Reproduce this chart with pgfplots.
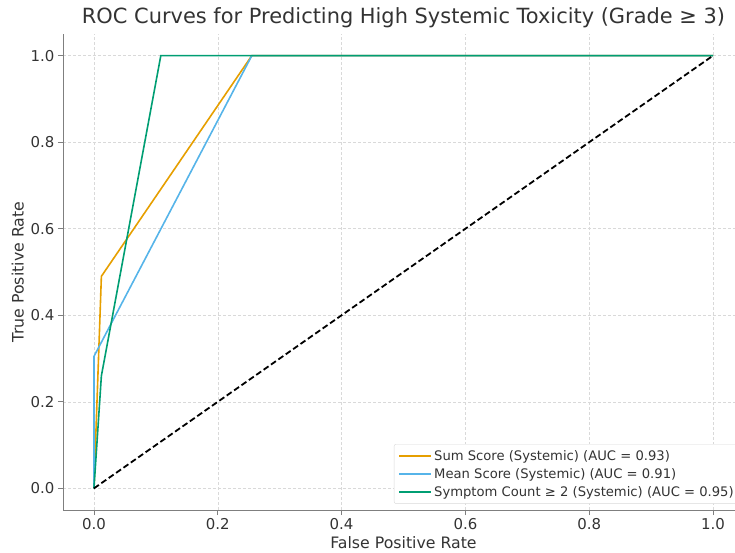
\documentclass[border=0pt]{standalone}
\usepackage{fontspec}
\setmainfont{DejaVu Sans}
\usepackage{pgfplots}
\pgfplotsset{compat=1.18}

\definecolor{sumc}{HTML}{E69F00}
\definecolor{meanc}{HTML}{56B4E9}
\definecolor{countc}{HTML}{009E73}
\definecolor{spine}{HTML}{7F7F7F}
\definecolor{txt}{HTML}{333333}

\begin{document}
\begin{tikzpicture}
\begin{axis}[
  scale only axis,
  width=681bp, height=476bp,
  xmin=-0.05, xmax=1.05, ymin=-0.05, ymax=1.05,
  axis x line*=bottom, axis y line*=left,
  axis line style={spine, line width=1bp, -},
  xtick={0,0.2,0.4,0.6,0.8,1.0},
  ytick={0,0.2,0.4,0.6,0.8,1.0},
  tick align=outside, major tick length=5bp,
  tick style={spine, line width=0.8bp},
  xticklabel style={/pgf/number format/fixed,/pgf/number format/fixed zerofill,/pgf/number format/precision=1},
  yticklabel style={/pgf/number format/fixed,/pgf/number format/fixed zerofill,/pgf/number format/precision=1},
  /pgf/number format/assume math mode=true,
  tick label style={font=\fontsize{15}{18}\selectfont, text=txt},
  grid=major,
  grid style={gray!30, line width=0.5bp, dash pattern=on 3bp off 2bp},
  title={ROC Curves for Predicting High Systemic Toxicity (Grade ≥ 3)},
  title style={font=\fontsize{21}{25}\selectfont, text=txt, yshift=-3bp},
  xlabel={False Positive Rate},
  ylabel={True Positive Rate},
  label style={font=\fontsize{15.8}{18}\selectfont, text=txt},
  legend style={at={(0.994,0.013)}, anchor=south east,
    font=\fontsize{13.2}{16}\selectfont, text=txt,
    draw=gray!30, rounded corners=2bp, fill=white,
    cells={anchor=west}, row sep=2.5bp, inner sep=4bp},
  legend image code/.code={\draw[#1, line width=2bp] (-4bp,0bp) -- (28bp,0bp);},
]
\addplot[sumc, line width=1.6bp] coordinates {(0,0) (0.012,0.49) (0.255,1) (1,1)};
\addlegendentry{Sum Score (Systemic) (AUC = 0.93)}
\addplot[meanc, line width=1.6bp] coordinates {(0,0) (0,0.305) (0.255,1) (1,1)};
\addlegendentry{Mean Score (Systemic) (AUC = 0.91)}
\addplot[countc, line width=1.6bp] coordinates {(0,0) (0.012,0.26) (0.108,1) (1,1)};
\addlegendentry{Symptom Count ≥ 2 (Systemic) (AUC = 0.95)}
\addplot[black, line width=1.8bp, dash pattern=on 6bp off 3bp, forget plot] coordinates {(0,0) (1,1)};
\end{axis}
\pgfresetboundingbox
\path[use as bounding box] (-63bp,-43bp) rectangle (672bp,510bp);
\end{tikzpicture}
\end{document}
